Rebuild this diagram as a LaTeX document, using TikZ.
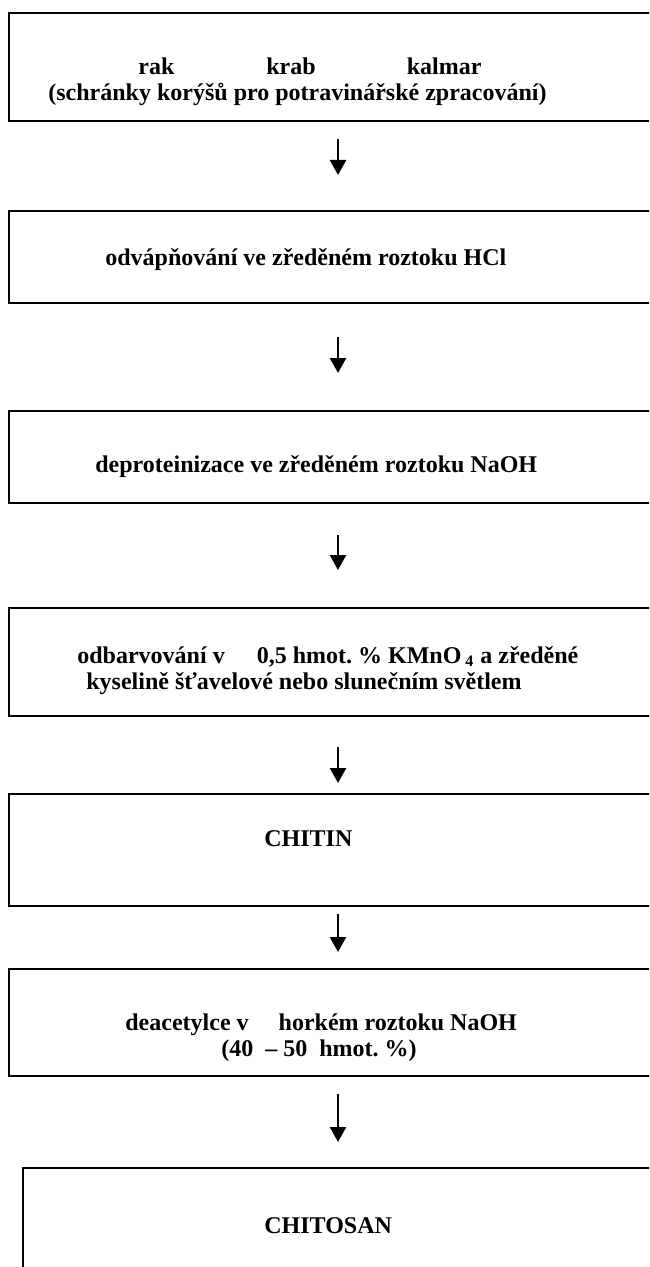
\documentclass[tikz,border=0pt]{standalone}
\usepackage{fontspec}
\setmainfont{Liberation Serif}
\usetikzlibrary{arrows.meta,calc}
\frenchspacing

\begin{document}
\begin{tikzpicture}[x=0.5pt,y=-0.5pt,
  every node/.style={font=\fontsize{12}{13}\selectfont\bfseries},
  stepbox/.style={draw,line width=0.8pt,minimum width=346pt,inner sep=0pt,anchor=north west},
  txt/.style={inner sep=0pt,anchor=base west},
  flow/.style={line width=1.2pt,-{Triangle[length=7.5pt,width=8pt]}}]
\clip (0,0) rectangle (649,1267);
\coordinate (ax) at (338,0);
% boxes
\node[stepbox,minimum height=54pt](b1) at (8,12){};
\node[stepbox,minimum height=46pt](b2) at (8,210){};
\node[stepbox,minimum height=46pt](b3) at (8,410){};
\node[stepbox,minimum height=54pt](b4) at (8,607){};
\node[stepbox,minimum height=56pt](b5) at (8,793){};
\node[stepbox,minimum height=53.5pt](b6) at (8,968){};
\node[stepbox,minimum height=75pt](b7) at (22,1167){};
% texts
\node[txt](t1a) at (138,75){rak\hspace{46pt}krab\hspace{45.5pt}kalmar};
\node[txt](t1b) at (48,101){(schránky korýšů pro potravinářské zpracování)};
\node[txt](t2) at (105,266){odvápňování ve zředěném roztoku HCl};
\node[txt](t3) at (95,472){deproteinizace ve zředěném roztoku NaOH};
\node[txt](t4a) at (77,663){odbarvování v\hspace{13pt} 0,5 hmot. \% KMnO\,\textsubscript{4} a zředěné};
\node[txt](t4b) at (86,689){kyselině šťavelové nebo slunečním světlem};
\node[txt](t5) at (264,846){CHITIN};
\node[txt](t6a) at (125,1030){deacetylce v\hspace{12pt} horkém roztoku NaOH};
\node[txt](t6b) at (221,1056){(40 \ – 50 \ hmot. \%)};
\node[txt](t7) at (264,1233){CHITOSAN};
% arrows
\draw[flow,shorten <=8.5pt,shorten >=17.5pt](b1.south -| ax)--(b2.north -| ax);
\draw[flow,shorten <=16.5pt,shorten >=18.5pt](b2.south -| ax)--(b3.north -| ax);
\draw[flow,shorten <=15.5pt,shorten >=18.5pt](b3.south -| ax)--(b4.north -| ax);
\draw[flow,shorten <=15pt,shorten >=5pt](b4.south -| ax)--(b5.north -| ax);
\draw[flow,shorten <=3.5pt,shorten >=8pt](b5.south -| ax)--(b6.north -| ax);
\draw[flow,shorten <=8.5pt,shorten >=12.5pt](b6.south -| ax)--(b7.north -| ax);
\end{tikzpicture}
\end{document}
